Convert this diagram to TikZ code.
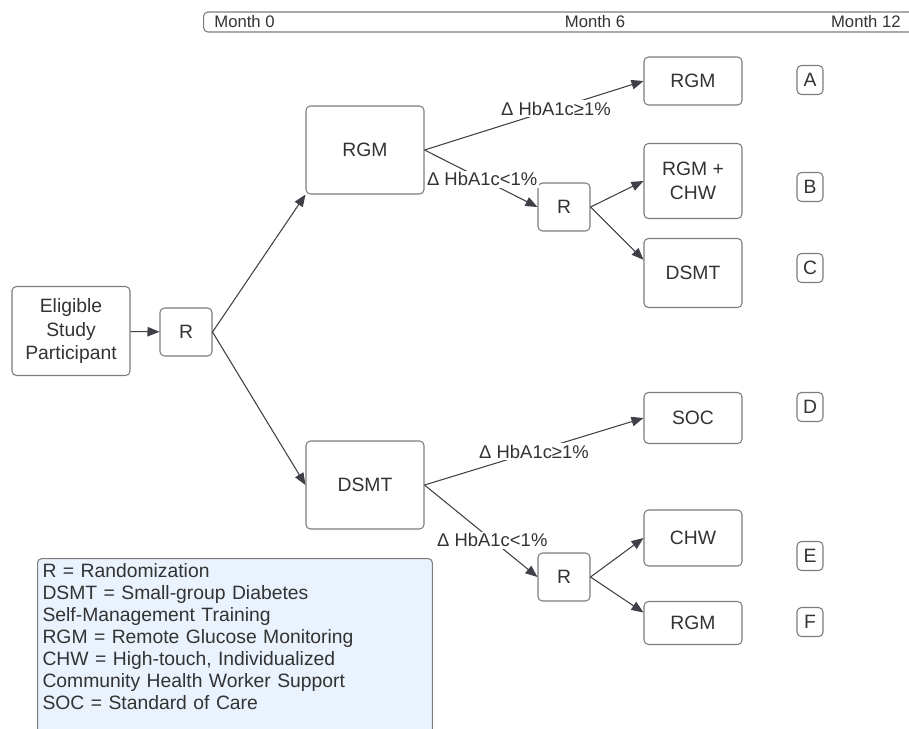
\documentclass[tikz,border=0pt]{standalone}
\usepackage{fontspec}
\setmainfont{Liberation Sans}
\usetikzlibrary{arrows.meta,positioning,calc}
\definecolor{fg}{HTML}{333333}
\definecolor{stroke}{HTML}{3E3F47}
\definecolor{bdim}{HTML}{7C7C7C}
\definecolor{surfkey}{HTML}{EAF2FD}

\begin{document}
\begin{tikzpicture}[
  x=0.02cm, y=-0.02cm,
  font=\fontsize{11}{13.6}\selectfont, >={Triangle[length=2.4mm,width=1.9mm]},
  every node/.append style={text=fg},
  box/.style={draw=bdim, line width=0.6pt, rounded corners=2.5pt, fill=white, align=center, inner sep=1pt},
  rbox/.style={box, minimum width=1.04cm, minimum height=0.96cm},
  arm/.style={box, minimum width=2.36cm, minimum height=1.76cm},
  finalarm/.style={box, minimum width=1.96cm},
  tag/.style={box, minimum width=0.52cm, minimum height=0.58cm},
  month/.style={font=\fontsize{9.5}{11}\selectfont, inner sep=0pt},
  cond/.style={fill=white, inner sep=1pt, font=\fontsize{10.5}{12}\selectfont},
  link/.style={->, draw=stroke, line width=0.6pt},
]
\useasboundingbox (0,0) rectangle (909,728);

% Timeline
\node[box, anchor=west, minimum width=14.3cm, minimum height=0.4cm] (timeline) at (203,22) {};
\node[month, anchor=west] (m0) at (214,22) {Month 0};
\node[month] (m6) at (595,22) {Month 6};
\node[month, anchor=east] (m12) at (901,22) {Month 12};

% Entry
\node[box, minimum width=2.36cm, minimum height=1.78cm] (elig) at (71,331) {Eligible\\Study\\Participant};
\node[rbox] (r1) at (186,332) {R};
\draw[link] (elig) -- (r1);

% First arms
\node[arm] (rgm) at (365,150) {RGM};
\node[arm] (dsmt) at (365,485) {DSMT};
\draw[link] (r1.east) -- (rgm.south west);
\draw[link] (r1.east) -- (dsmt.west);

% RGM branch
\node[rbox] (r2) at (564,207) {R};
\node[finalarm, minimum height=0.96cm] (armA) at (693,81) {RGM};
\node[finalarm, minimum height=1.5cm] (armB) at (693,181) {RGM +\\CHW};
\node[finalarm, minimum height=1.38cm] (armC) at (693,273) {DSMT};
\draw[link] (rgm.east) -- node[cond, pos=0.6] {Δ HbA1c≥1\%} (armA.west);
\draw[link] (rgm.east) -- node[cond, pos=0.51] {Δ HbA1c<1\%} (r2.west);
\draw[link] (r2.east) -- (armB.west);
\draw[link] (r2.east) -- (armC.165);

% DSMT branch
\node[rbox] (r3) at (564,577) {R};
\node[finalarm, minimum height=1.02cm] (armD) at (693,418) {SOC};
\node[finalarm, minimum height=1.12cm] (armE) at (693,538) {CHW};
\node[finalarm, minimum height=0.86cm] (armF) at (693,623) {RGM};
\draw[link] (dsmt.east) -- node[cond, pos=0.5] {Δ HbA1c≥1\%} (armD.west);
\draw[link] (dsmt.east) -- node[cond, pos=0.6] {Δ HbA1c<1\%} (r3.west);
\draw[link] (r3.east) -- (armE.west);
\draw[link] (r3.east) -- (armF.168);

% Arm letters
\foreach \t/\y in {A/80,B/187,C/268,D/407,E/556,F/622}{
  \node[tag] (tag\t) at (810,\y) {\t};
}

% Key (runs off the bottom edge)
\node[box, fill=surfkey, anchor=north west, align=left, inner xsep=0.1cm, inner ysep=0.1cm,
  text width=7.7cm, font=\fontsize{11}{12.5}\selectfont] (key) at (37,558)
  {R = Randomization\\
   DSMT = Small-group Diabetes\\
   Self-Management Training\\
   RGM = Remote Glucose Monitoring\\
   CHW = High-touch, Individualized\\
   Community Health Worker Support\\
   SOC = Standard of Care\\
   \mbox{}};

\end{tikzpicture}
\end{document}
